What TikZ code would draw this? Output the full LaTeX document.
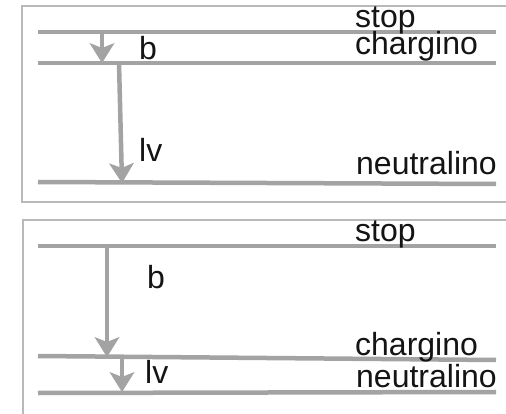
\documentclass[tikz,border=0pt]{standalone}
\usepackage{fontspec}
\setmainfont{Liberation Sans}
\usetikzlibrary{arrows.meta}
\definecolor{lvgray}{RGB}{163,163,163}
\definecolor{framegray}{RGB}{185,185,185}
\definecolor{txt}{RGB}{20,20,20}
\begin{document}
\begin{tikzpicture}[x=1pt,y=-1pt,
  level/.style={draw=lvgray,line width=4.5pt},
  frameline/.style={draw=framegray,line width=1.5pt},
  decay/.style={draw=lvgray,line width=4.5pt,-{Stealth[length=20pt,width=25pt,inset=5pt,line width=1pt]}},
  lab/.style={anchor=base west,inner sep=0pt,text=txt,font=\fontsize{32}{38}\selectfont}]
\useasboundingbox (0,0) rectangle (506,414);
\fill[white] (0,0) rectangle (506,414);
% frames
\draw[frameline] (506,6) -- (22,6) -- (22,202) -- (506,202);
\draw[frameline] (506,220) -- (23,220) -- (23,414);
% top panel levels
\coordinate (s1l) at (38,32);   \coordinate (s1r) at (496,32);
\coordinate (c1l) at (38,63);   \coordinate (c1r) at (496,63);
\coordinate (n1l) at (38,182);  \coordinate (n1r) at (496,184);
\draw[level] (s1l) -- (s1r);
\draw[level] (c1l) -- (c1r);
\draw[level] (n1l) -- (n1r);
\coordinate (a1s) at (102,32); \coordinate (a1e) at (102,63);
\coordinate (a2s) at (119,63); \coordinate (a2e) at (122,183);
\draw[decay] (a1s) -- (a1e);
\draw[decay] (a2s) -- (a2e);
\node[lab] (stop1) at (355,28) {stop};
\node[lab] (char1) at (355,55) {chargino};
\node[lab] (neut1) at (356,175) {neutralino};
\node[lab] (b1) at (139,60) {b};
\node[lab] (lv1) at (139,162) {lv};
% bottom panel levels
\coordinate (s2l) at (38,246);  \coordinate (s2r) at (496,246);
\coordinate (c2l) at (38,356);  \coordinate (c2r) at (496,360);
\coordinate (n2l) at (38,393);  \coordinate (n2r) at (496,392);
\draw[level] (s2l) -- (s2r);
\draw[level] (c2l) -- (c2r);
\draw[level] (n2l) -- (n2r);
\coordinate (b1s) at (107,246); \coordinate (b1e) at (107,357);
\coordinate (b2s) at (122,358); \coordinate (b2e) at (122,392);
\draw[decay] (b1s) -- (b1e);
\draw[decay] (b2s) -- (b2e);
\node[lab] (stop2) at (355,242) {stop};
\node[lab] (char2) at (355,355) {chargino};
\node[lab] (neut2) at (356,387) {neutralino};
\node[lab] (b2) at (147,288) {b};
\node[lab] (lv2) at (145,383) {lv};
\end{tikzpicture}
\end{document}
